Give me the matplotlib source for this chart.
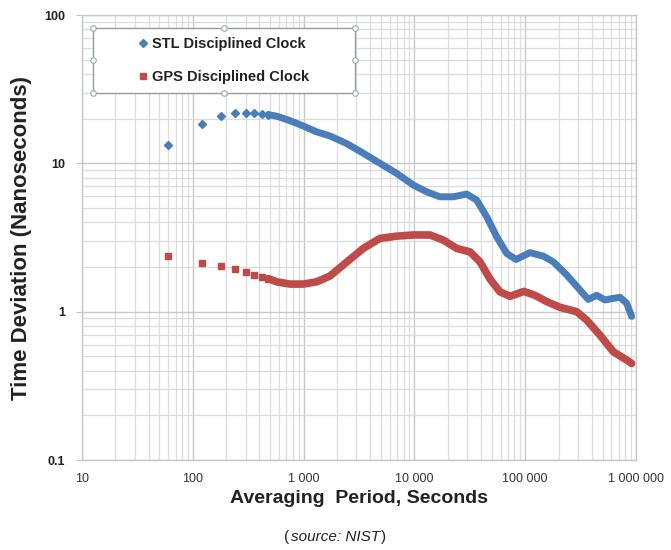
import numpy as np
import matplotlib
matplotlib.use("Agg")
import matplotlib.pyplot as plt
from matplotlib.patches import Rectangle

plt.rcParams['font.family'] = ['Liberation Sans', 'DejaVu Sans']

##  Values
# first (sparse) points, drawn as single markers
tau_pts = [60, 120, 180, 240, 300, 360, 420, 480]
stl_pts = [13.2, 18.4, 20.8, 21.7, 21.7, 21.7, 21.5, 21.3]
gps_pts = [2.38, 2.12, 2.03, 1.95, 1.85, 1.77, 1.72, 1.67]

# dense part, where the markers merge into a thick band
stl_tau = [480, 572, 754, 994, 1313, 1730, 2449, 3459, 4893, 6918, 9774,
           12910, 17020, 22440, 29650, 36490, 44930, 55340, 68080, 82600,
           110500, 145700, 179300, 236900, 312500, 371000, 441900, 525000,
           623700, 717700, 824400, 914200]
stl_dev = [21.3, 20.8, 19.4, 17.85, 16.3, 15.3, 13.6, 11.7, 10.0, 8.56, 7.14,
           6.43, 5.95, 5.95, 6.21, 5.65, 4.37, 3.20, 2.47, 2.25,
           2.50, 2.37, 2.17, 1.77, 1.40, 1.21, 1.29, 1.20,
           1.23, 1.25, 1.14, 0.93]

gps_tau = [480, 572, 754, 994, 1313, 1730, 2449, 3459, 4893, 6918, 9774,
           13830, 18230, 24090, 31770, 39090, 48130, 59240, 72900, 97500,
           122500, 156300, 206100, 291600, 359100, 473200, 623700, 824400,
           914200]
gps_dev = [1.67, 1.59, 1.535, 1.535, 1.59, 1.74, 2.16, 2.67, 3.12, 3.23, 3.29,
           3.29, 3.04, 2.67, 2.53, 2.17, 1.66, 1.36, 1.27, 1.37,
           1.29, 1.17, 1.07, 1.0, 0.878, 0.695, 0.537, 0.472,
           0.448]

x_ticks = [10, 100, 1000, 10000, 100000, 1000000]
x_labels = ['10', '100', '1 000', '10 000', '100 000', '1 000 000']
y_ticks = [0.1, 1, 10, 100]
y_labels = ['0.1', '1', '10', '100']

blue = '#4a7ebb'
red = '#be4b48'

fig = plt.figure(figsize=(6.71, 5.5), dpi=100)
ax = fig.add_axes([0.1222, 0.1636, 0.8256, 0.8091])

ax.set_xscale('log')
ax.set_yscale('log')
ax.set_xlim(10, 1e6)
ax.set_ylim(0.1, 100)

ax.grid(True, which='major', color='#c8c8c8', linewidth=1.0)
ax.grid(True, which='minor', color='#dcdcdc', linewidth=0.9)
ax.set_axisbelow(True)
for s in ax.spines.values():
    s.set_color('#c8c8c8')
    s.set_linewidth(1.0)

# thick bands
ax.plot(stl_tau, stl_dev, color=blue, linewidth=5, solid_capstyle='round',
        solid_joinstyle='round')
ax.plot(gps_tau, gps_dev, color=red, linewidth=5.5, solid_capstyle='round',
        solid_joinstyle='round')
# single markers
stl_h, = ax.plot(tau_pts, stl_pts, linestyle='none', marker='D', markersize=4.3,
                 color=blue, label='STL Disciplined Clock')
gps_h, = ax.plot(tau_pts, gps_pts, linestyle='none', marker='s', markersize=5,
                 color=red, label='GPS Disciplined Clock')

ax.set_xticks(x_ticks)
ax.set_xticklabels(x_labels)
ax.set_yticks(y_ticks)
ax.set_yticklabels(y_labels, fontweight='bold')
ax.tick_params(axis='both', which='minor', length=0)
ax.tick_params(axis='both', which='major', length=4, color='#c8c8c8',
               labelsize=9, colors='#222222')
ax.tick_params(axis='x', which='major', pad=9, length=0, colors='#333333')
ax.tick_params(axis='y', which='major', pad=8)

ax.set_xlabel('Averaging  Period, Seconds', fontsize=14, fontweight='bold',
              labelpad=4, color='#222222')
ax.set_ylabel('Time Deviation (Nanoseconds)', fontsize=16, fontweight='bold',
              labelpad=9, color='#222222')

# legend inside a selected-looking frame
bx0, by0, bw, bh = 0.020, 0.825, 0.473, 0.146
ax.add_patch(Rectangle((bx0, by0), bw, bh, transform=ax.transAxes,
                       facecolor='white', edgecolor='#9a9a9a', linewidth=1.0,
                       zorder=5))
hx = [bx0, bx0 + bw / 2, bx0 + bw]
hy = [by0, by0 + bh / 2, by0 + bh]
for i, xx in enumerate(hx):
    for j, yy in enumerate(hy):
        if i == 1 and j == 1:
            continue
        ax.plot(xx, yy, marker='o', markersize=4, markerfacecolor='white',
                markeredgecolor='#8fb0a0', markeredgewidth=0.8,
                transform=ax.transAxes, zorder=6, clip_on=False)

leg = ax.legend(handles=[stl_h, gps_h], loc='center',
                bbox_to_anchor=(bx0 + bw / 2, by0 + bh / 2),
                frameon=False, prop={'weight': 'bold', 'size': 10.5},
                labelspacing=1.3, handlelength=0.5, handletextpad=0.35,
                numpoints=1)
leg.set_zorder(7)
for t in leg.get_texts():
    t.set_color('#222222')

# caption: "(source: NIST)" with italic middle part
mid = fig.text(0.5, 0.017, 'source: NIST', ha='center', fontsize=11,
               style='italic', color='#222222')
fig.canvas.draw()
bb = mid.get_window_extent().transformed(fig.transFigure.inverted())
fig.text(bb.x0 - 0.002, 0.017, '(', ha='right', fontsize=11, color='#222222')
fig.text(bb.x1 + 0.001, 0.017, ')', ha='left', fontsize=11, color='#222222')

fig.savefig('out.png', dpi=100, facecolor='white')
